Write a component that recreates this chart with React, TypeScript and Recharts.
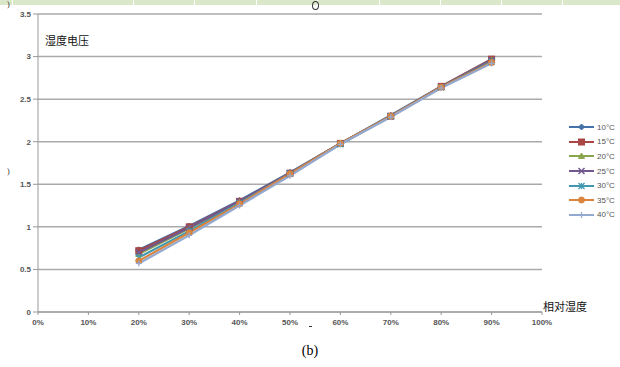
import React from 'react';
import { LineChart, Line, XAxis, YAxis, CartesianGrid } from 'recharts';

const humidity = [20, 30, 40, 50, 60, 70, 80, 90];
const v10 = [0.73, 1.01, 1.31, 1.64, 1.98, 2.31, 2.65, 2.97];
const v15 = [0.72, 1.0, 1.3, 1.63, 1.98, 2.3, 2.65, 2.97];
const v20 = [0.68, 0.98, 1.29, 1.63, 1.98, 2.3, 2.64, 2.96];
const v25 = [0.7, 0.99, 1.3, 1.63, 1.98, 2.3, 2.64, 2.96];
const v30 = [0.64, 0.95, 1.28, 1.62, 1.97, 2.3, 2.64, 2.94];
const v35 = [0.6, 0.93, 1.27, 1.62, 1.98, 2.3, 2.64, 2.93];
const v40 = [0.57, 0.9, 1.25, 1.6, 1.97, 2.29, 2.63, 2.92];

const xTicks = [0, 10, 20, 30, 40, 50, 60, 70, 80, 90, 100];
const yTicks = [0, 0.5, 1, 1.5, 2, 2.5, 3, 3.5];

const seriesNames = ['10°C', '15°C', '20°C', '25°C', '30°C', '35°C', '40°C'];
const seriesValues = [v10, v15, v20, v25, v30, v35, v40];
const seriesColors = ['#4572A7', '#AA4643', '#89A54E', '#71588F', '#4198AF', '#DB843D', '#93A9CF'];
const seriesMarkers = ['diamond', 'square', 'triangle', 'x', 'star', 'circle', 'plus'];

const data = humidity.map((h, i) => {
  const row: any = { h };
  seriesNames.forEach((n, s) => {
    row[n] = seriesValues[s][i];
  });
  return row;
});

function Marker({ type, x, y, color }: { type: string; x: number; y: number; color: string }) {
  const r = 3;
  switch (type) {
    case 'diamond':
      return <polygon points={`${x},${y - r} ${x + r},${y} ${x},${y + r} ${x - r},${y}`} fill={color} stroke={color} />;
    case 'square':
      return <rect x={x - r} y={y - r} width={2 * r} height={2 * r} fill={color} stroke={color} />;
    case 'triangle':
      return <polygon points={`${x},${y - r} ${x + r},${y + r * 0.8} ${x - r},${y + r * 0.8}`} fill={color} stroke={color} />;
    case 'x':
      return (
        <g stroke={color} strokeWidth={1.5}>
          <line x1={x - r} y1={y - r} x2={x + r} y2={y + r} />
          <line x1={x - r} y1={y + r} x2={x + r} y2={y - r} />
        </g>
      );
    case 'star':
      return (
        <g stroke={color} strokeWidth={1.3}>
          <line x1={x - r} y1={y - r} x2={x + r} y2={y + r} />
          <line x1={x - r} y1={y + r} x2={x + r} y2={y - r} />
          <line x1={x} y1={y - r} x2={x} y2={y + r} />
        </g>
      );
    case 'circle':
      return <circle cx={x} cy={y} r={r} fill={color} stroke={color} />;
    case 'plus':
    default:
      return (
        <g stroke={color} strokeWidth={1.3}>
          <line x1={x} y1={y - r} x2={x} y2={y + r} />
          <line x1={x - r} y1={y} x2={x + r} y2={y} />
        </g>
      );
  }
}

function LegendBox() {
  return (
    <div style={{ position: 'absolute', left: 568, top: 120, display: 'flex', flexDirection: 'column' }}>
      {seriesNames.map((n, i) => (
        <div key={n} style={{ display: 'flex', alignItems: 'center', height: 14.6 }}>
          <svg width={28} height={10} style={{ display: 'block' }}>
            <line x1={1} y1={5} x2={26} y2={5} stroke={seriesColors[i]} strokeWidth={2} />
            <Marker type={seriesMarkers[i]} x={13.5} y={5} color={seriesColors[i]} />
          </svg>
          <span style={{ fontFamily: 'Liberation Sans, Arial, sans-serif', fontSize: 8, color: '#555', marginLeft: 1 }}>{n}</span>
        </div>
      ))}
    </div>
  );
}

const tickStyle = { fontFamily: 'Liberation Sans, Arial, sans-serif', fontSize: 8, fill: '#555', fontWeight: 'bold' as const };

const separators = [12, 133, 194, 256, 317, 379, 440, 501, 562];

export default function App() {
  return (
    <div style={{ position: 'absolute', left: 0, top: 0, width: 620, height: 367, background: '#fff' }}>
      <div style={{ position: 'absolute', left: 0, top: 0, width: 620, height: 5, background: '#dbe7c9' }} />
      {separators.map((s) => (
        <div key={s} style={{ position: 'absolute', left: s, top: 0, width: 1, height: 5, background: '#fff' }} />
      ))}
      <div style={{ position: 'absolute', left: 0, top: 0 }}>
        <LineChart
          width={620}
          height={367}
          data={data}
          margin={{ top: 14, right: 78, bottom: 35, left: 8 }}
        >
          <CartesianGrid horizontal vertical={false} stroke="#aaa" strokeWidth={1.5} />
          <XAxis
            dataKey="h"
            type="number"
            domain={[0, 100]}
            ticks={xTicks}
            tickFormatter={(v: number) => `${v}%`}
            stroke="#999"
            tickSize={3}
            tickMargin={4}
            tick={tickStyle}
            height={20}
            interval={0}
          />
          <YAxis
            type="number"
            domain={[0, 3.5]}
            ticks={yTicks}
            stroke="#999"
            tickSize={5}
            tick={tickStyle}
            width={30}
            interval={0}
          />
          {seriesNames.map((n, i) => (
            <Line
              key={n}
              dataKey={n}
              stroke={seriesColors[i]}
              strokeWidth={2.2}
              isAnimationActive={false}
              dot={(p: any) => (
                <Marker key={`${n}-${p.index}`} type={seriesMarkers[i]} x={p.cx} y={p.cy} color={seriesColors[i]} />
              )}
              activeDot={false}
            />
          ))}
        </LineChart>
      </div>
      <LegendBox />
      <div style={{ position: 'absolute', left: 45, top: 32, fontFamily: 'Noto Sans CJK SC, sans-serif', fontSize: 11, color: '#111' }}>湿度电压</div>
      <div style={{ position: 'absolute', left: 543, top: 299, fontFamily: 'Noto Sans CJK SC, sans-serif', fontSize: 11, lineHeight: '15px', color: '#111' }}>相对湿度</div>
      <div style={{ position: 'absolute', left: 0, top: 343, width: 620, textAlign: 'center', fontFamily: 'Liberation Serif, serif', fontSize: 14, color: '#000' }}>(b)</div>
      <div style={{ position: 'absolute', left: 309, top: 326, width: 3, height: 1, background: '#333' }} />
      <div style={{ position: 'absolute', left: 312, top: 1, width: 5, height: 7, border: '1px solid #333', borderRadius: '50%' }} />
      <div style={{ position: 'absolute', left: 7, top: 0, fontFamily: 'Liberation Serif, serif', fontSize: 8, lineHeight: '9px', color: '#333' }}>)</div>
      <div style={{ position: 'absolute', left: 7, top: 167, fontFamily: 'Liberation Serif, serif', fontSize: 8, lineHeight: '9px', color: '#333' }}>)</div>
    </div>
  );
}
